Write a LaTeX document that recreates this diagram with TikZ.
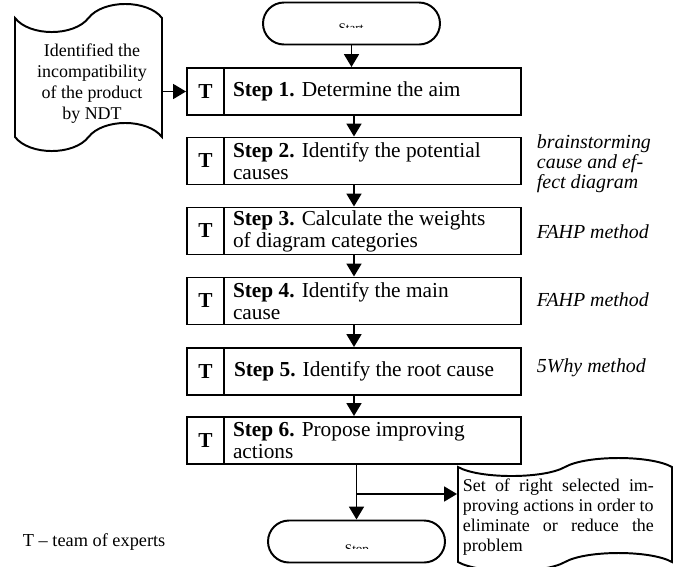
\documentclass[tikz,border=0pt]{standalone}
\usepackage{fontspec}
\setmainfont{Liberation Serif}
\usetikzlibrary{arrows.meta,shapes.misc,calc}
\def\pxu{0.5625pt}
\begin{document}
\begin{tikzpicture}[x=0.5625pt,y=-0.5625pt,line width=1.1pt,
  stepbox/.style={draw,minimum width=334*\pxu,minimum height=47*\pxu,inner sep=0},
  tcell/.style={draw,minimum width=37*\pxu,minimum height=47*\pxu,inner sep=0,anchor=west,font=\fontsize{12}{12}\selectfont\bfseries},
  steptext/.style={anchor=west,align=left,inner sep=0,font=\fontsize{12}{12.4}\selectfont},
  note/.style={anchor=west,align=left,inner sep=0,font=\fontsize{11.2}{9.8}\selectfont\itshape},
  term/.style={draw,rounded rectangle,minimum width=177*\pxu,minimum height=42*\pxu,inner sep=0},
  tinytext/.style={anchor=base,inner sep=0,font=\fontsize{7.4}{8}\selectfont},
  arr/.style={-{Triangle[width=8.4pt,length=7.3pt]}},
  doctext/.style={align=center,inner sep=0,font=\fontsize{10.1}{11.8}\selectfont},
  docbox/.style={inner sep=0},
]
\useasboundingbox (0,0) rectangle (681,566);

% terminals
\node[term] (start) at (351.5,23.5) {};
\begin{scope}
  \clip (263,0) rectangle (440,27.5);
  \node[tinytext] (starttext) at (351,32.5) {Start};
\end{scope}
\node[term] (stop) at (356.5,541.5) {};
\begin{scope}
  \clip (268,520) rectangle (445,548.5);
  \node[tinytext] (stoptext) at (357,553.5) {Stop};
\end{scope}

% steps
\node[stepbox] (b1) at (354,91.5) {};
\node[tcell] (t1) at (b1.west) {T};
\node[steptext] (s1) at ($(b1.west)+(46,0)$) {\textbf{Step 1.} Determine the aim};

\node[stepbox] (b2) at (354,161) {};
\node[tcell] (t2) at (b2.west) {T};
\node[steptext] (s2) at ($(b2.west)+(46,0)$) {\textbf{Step 2.} Identify the potential\\causes};

\node[stepbox] (b3) at (354,231) {};
\node[tcell] (t3) at (b3.west) {T};
\node[steptext] (s3) at ($(b3.west)+(46,0)$) {\textbf{Step 3.} Calculate the weights\\of diagram categories};

\node[stepbox] (b4) at (354,301) {};
\node[tcell] (t4) at (b4.west) {T};
\node[steptext] (s4) at ($(b4.west)+(46,0)$) {\textbf{Step 4.} Identify the main\\cause};

\node[stepbox] (b5) at (354,371.5) {};
\node[tcell] (t5) at (b5.west) {T};
\node[steptext] (s5) at ($(b5.west)+(47,0)$) {\textbf{Step 5.} Identify the root cause};

\node[stepbox] (b6) at (354,440.5) {};
\node[tcell] (t6) at (b6.west) {T};
\node[steptext] (s6) at ($(b6.west)+(46,0)$) {\textbf{Step 6.} Propose improving\\actions};

% notes
\node[note] (n2) at ($(b2.east)+(14,3)$) {brainstorming\\cause and ef-\\fect diagram};
\node[note] (n3) at ($(b3.east)+(14,1)$) {FAHP method};
\node[note] (n4) at ($(b4.east)+(14,-1)$) {FAHP method};
\node[note] (n5) at ($(b5.east)+(14,-3.5)$) {5Why method};

% left document
\draw (15,18) .. controls (29.7,36.7) and (73.8,36.7) .. (88.5,18)
  .. controls (103.2,-0.7) and (147.3,-0.7) .. (162,18) -- (162,137)
  .. controls (147.3,118.3) and (103.2,118.3) .. (88.5,137)
  .. controls (73.8,155.7) and (29.7,155.7) .. (15,137) -- cycle;
\node[docbox,minimum width=147*\pxu,minimum height=119*\pxu] (doc1) at (88.5,77.5) {};
\node[doctext] (doc1text) at (92,84) {Identified the\\incompatibility\\of the product\\by NDT};

% right document
\draw (458,467) .. controls (479.4,479) and (543.6,479) .. (565,467)
  .. controls (586.4,455) and (650.6,455) .. (672,467) -- (672,562)
  .. controls (650.6,550) and (586.4,550) .. (565,562)
  .. controls (543.6,574) and (479.4,574) .. (458,562) -- cycle;
\node[docbox,minimum width=214*\pxu,minimum height=95*\pxu] (doc2) at (565,514.5) {};
\node[anchor=west,align=left,inner sep=0,font=\fontsize{10.1}{11.25}\selectfont] (doc2text) at (462,517.5)
  {\makebox[107.4pt][s]{Set of right selected im-}\\proving actions in order to\\\makebox[107.4pt][s]{eliminate or reduce the}\\problem};

% legend
\node[anchor=west,inner sep=0,font=\fontsize{10.3}{12}\selectfont] (legend) at (22,542) {T -- team of experts};

% connectors
\draw[arr] (start.south) -- (start.south |- b1.north);
\draw[arr] (b1.south) -- (b2.north);
\draw[arr] (b2.south) -- (b3.north);
\draw[arr] (b3.south) -- (b4.north);
\draw[arr] (b4.south) -- (b5.north);
\draw[arr] (b5.south) -- (b6.north);
\draw[arr] (doc1.east |- b1.west) -- (b1.west);
\draw[arr] (stop.north |- b6.south) -- (stop.north);
\coordinate (br) at ($(stop.north |- b6.south)+(0,29)$);
\draw[arr] (br) -- (br -| doc2.west);
\end{tikzpicture}
\end{document}
